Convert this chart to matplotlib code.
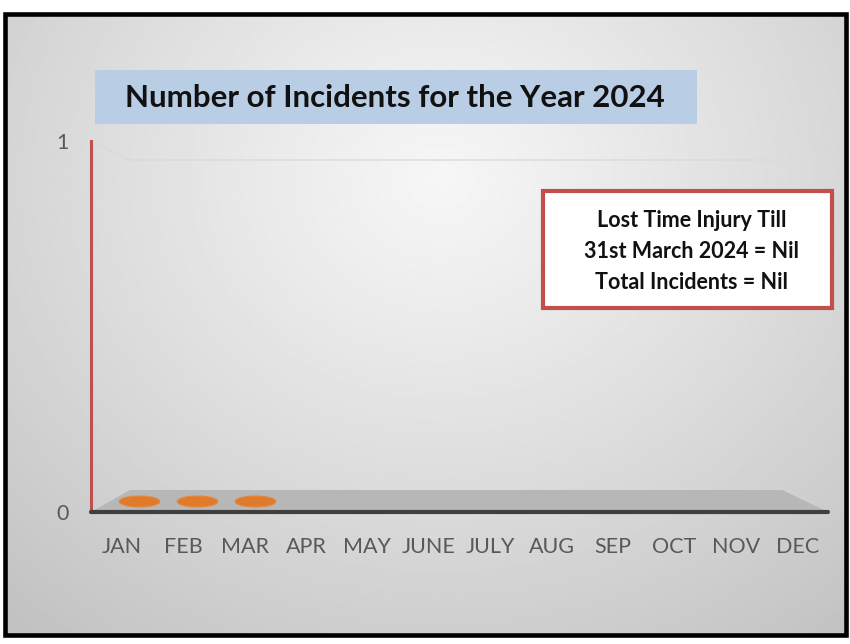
import matplotlib
matplotlib.use('Agg')
import matplotlib.pyplot as plt
import numpy as np
from matplotlib.patches import Rectangle, Polygon

plt.rcParams['font.family'] = ['Lato', 'DejaVu Sans']

# Chart data
months = ['JAN', 'FEB', 'MAR', 'APR', 'MAY', 'JUNE', 'JULY', 'AUG', 'SEP', 'OCT', 'NOV', 'DEC']
incidents = [0, 0, 0, np.nan, np.nan, np.nan, np.nan, np.nan, np.nan, np.nan, np.nan, np.nan]
y_ticks = [0, 1]
chart_title = 'Number of Incidents for the Year 2024'
note_lines = ['Lost Time Injury Till', '31st March 2024 = Nil', 'Total Incidents = Nil']

W, H = 850, 644
fig = plt.figure(figsize=(W / 100, H / 100), dpi=100)
fig.patch.set_facecolor('white')

# Background / decoration layer in pixel coordinates (y grows downward)
bg = fig.add_axes([0, 0, 1, 1])
bg.set_xlim(0, W)
bg.set_ylim(H, 0)
bg.axis('off')

# radial grey gradient behind the chart
xx, yy = np.meshgrid(np.arange(W), np.arange(H))
dist = np.sqrt((xx - 440) ** 2 + ((yy - 170) * 1.1) ** 2) / 620
shade = np.clip(0.965 - 0.19 * dist ** 1.1, 0.76, 1)
bg.imshow(shade, cmap='gray', vmin=0, vmax=1, extent=[5, 846, 635, 14], zorder=0, aspect='auto')

# black outer frame
bg.add_patch(Rectangle((5, 14), 841, 621, fill=False, edgecolor='black', lw=3.3, zorder=5))

# title box
bg.add_patch(Rectangle((95, 70), 602, 54, facecolor='#b9cde5', edgecolor='none', zorder=2))
bg.text(395, 98, chart_title, ha='center', va='center', fontsize=22.5, fontweight='bold', color='#111111', zorder=3)

# back-wall gridline at value 1 and the 3D floor
bg.plot([92, 130, 782], [142, 160, 160], color='#dadada', lw=1, zorder=2)
bg.add_patch(Polygon([(91, 512), (130, 490), (782, 490), (828, 512)], closed=True,
                     facecolor='#b7b7b7', edgecolor='none', zorder=2))

# note box
bg.add_patch(Rectangle((543, 191), 289, 117, facecolor='white', edgecolor='#c0504d', lw=3, zorder=3))
for i, line in enumerate(note_lines):
    bg.text(692, 220 + 31 * i, line, ha='center', va='center', fontsize=15.5, fontweight='bold', color='#111111', zorder=4)

# Front plane axes: y-axis and month labels
x_pos = np.arange(len(months))
ax = fig.add_axes([91 / W, (H - 512) / H, 737 / W, 371 / H])
ax.patch.set_alpha(0)
ax.set_xlim(-0.5, len(months) - 0.5)
ax.set_ylim(0, 1)
ax.set_xticks(x_pos)
ax.set_xticklabels(months)
ax.set_yticks(y_ticks)
ax.set_yticklabels([str(t) for t in y_ticks])
ax.tick_params(axis='both', length=0, labelsize=15.5, labelcolor='#595959')
ax.tick_params(axis='x', pad=18)
ax.tick_params(axis='y', pad=16)
for side in ['top', 'right']:
    ax.spines[side].set_visible(False)
ax.spines['left'].set_color('#c0504d')
ax.spines['left'].set_linewidth(2.2)
ax.spines['bottom'].set_color('#3f3f3f')
ax.spines['bottom'].set_linewidth(3)
ax.spines['bottom'].set_capstyle('round')

# Mid-depth plane axes: tops of the zero-height cylinders sit on the floor
mid = fig.add_axes([110.5 / W, (H - 501) / H, 694.5 / W, 340 / H])
mid.patch.set_alpha(0)
mid.axis('off')
mid.set_xlim(-0.5, len(months) - 0.5)
mid.set_ylim(0, 1)
t = np.linspace(0, 2 * np.pi, 60)
ellipse = np.column_stack([np.cos(t), 0.27 * np.sin(t)])
mid.scatter(x_pos, incidents, marker=ellipse, s=860, color='#e07a2c', edgecolors='#e48a3c',
            linewidths=0.8, clip_on=False, zorder=3)

fig.savefig('out.png', dpi=100)
